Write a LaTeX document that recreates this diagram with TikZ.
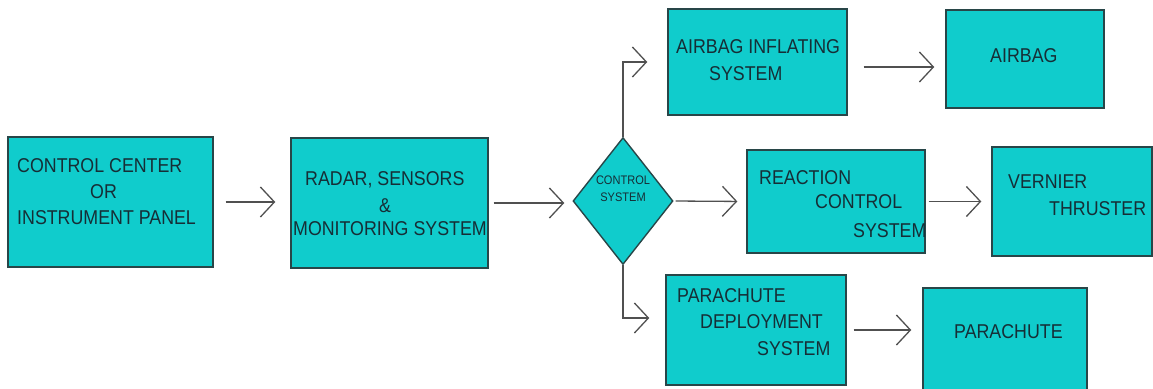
\documentclass[tikz,border=0pt]{standalone}
\usepackage{fontspec}
\setmainfont{Liberation Sans}[FakeStretch=0.89]
\usetikzlibrary{arrows.meta,shapes.geometric}
\definecolor{boxfill}{RGB}{16,204,204}
\definecolor{boxline}{RGB}{40,70,72}
\definecolor{txt}{RGB}{22,46,54}
\definecolor{arr}{RGB}{80,80,80}
\tikzset{
  blk/.style={draw=boxline,fill=boxfill,line width=1.4pt,inner sep=0pt},
  dia/.style={diamond,draw=boxline,fill=boxfill,line width=1.4pt,inner sep=0pt,minimum width=100pt,minimum height=127pt},
  lbl/.style={anchor=base west,inner sep=0pt,text=txt,font=\fontsize{20}{22}\selectfont},
  slbl/.style={anchor=base,inner sep=0pt,text=txt,font=\fontsize{12.4}{14}\selectfont},
  conn/.style={draw=arr,line width=1.3pt,-{Straight Barb[length=14pt,width=30pt,line width=1.3pt]}}
}
\begin{document}
\begin{tikzpicture}[x=1pt,y=-1pt]
\useasboundingbox (0,0) rectangle (1153,388);
% boxes
\node[blk,minimum width=205pt,minimum height=130pt] (cc) at (110.5,202) {};
\node[blk,minimum width=197pt,minimum height=130pt] (rad) at (389.5,203) {};
\node[dia] (cs) at (623,201) {};
\node[blk,minimum width=179pt,minimum height=106pt] (ais) at (757.5,62) {};
\node[blk,minimum width=158pt,minimum height=98pt] (ab) at (1025,59) {};
\node[blk,minimum width=178pt,minimum height=103pt] (rcs) at (836,201.5) {};
\node[blk,minimum width=160pt,minimum height=109pt] (vt) at (1072,201.5) {};
\node[blk,minimum width=180pt,minimum height=110pt] (pds) at (756,330) {};
\node[blk,minimum width=164pt,minimum height=106pt] (pc) at (1005,341) {};
% texts
\node[lbl] at (17,172) {CONTROL CENTER};
\node[lbl] at (90,198) {OR};
\node[lbl] at (17,224) {INSTRUMENT PANEL};
\node[lbl] at (305,185) {RADAR, SENSORS};
\node[lbl] at (379,212) {\&};
\node[lbl] at (293,235) {MONITORING SYSTEM};
\node[slbl] at (623,184) {CONTROL};
\node[slbl] at (623,201) {SYSTEM};
\node[lbl] at (676,53) {AIRBAG INFLATING};
\node[lbl] at (709,80) {SYSTEM};
\node[lbl] at (990,62) {AIRBAG};
\node[lbl] at (759,184) {REACTION};
\node[lbl] at (815,208) {CONTROL};
\node[lbl] at (853,237) {SYSTEM};
\node[lbl] at (1008,188) {VERNIER};
\node[lbl] at (1049,215) {THRUSTER};
\node[lbl] at (677,302) {PARACHUTE};
\node[lbl] at (700,328) {DEPLOYMENT};
\node[lbl] at (757,355) {SYSTEM};
\node[lbl] at (954,338) {PARACHUTE};
% connectors
\coordinate (a1) at ([yshift=-5pt]ais.east);
\coordinate (p1) at ([yshift=12pt]pds.west);
\draw[conn,shorten <=12pt,shorten >=15pt] (cc.east) -- (cc.east -| rad.west);
\draw[conn,shorten <=5pt,shorten >=8pt] (rad.east) -- (rad.east -| cs.west);
\draw[conn,shorten >=20pt] (cs.north) |- (ais.west);
\draw[conn,shorten <=2pt,shorten >=9pt] (cs.east) -- (rcs.west);
\draw[conn,shorten >=16pt] (cs.south) |- (p1);
\draw[conn,shorten <=16pt,shorten >=11pt] (a1) -- (a1 -| ab.west);
\draw[conn,shorten <=3pt,shorten >=10pt] (rcs.east) -- (rcs.east -| vt.west);
\draw[conn,shorten <=7pt,shorten >=11pt] (pds.east) -- (pds.east -| pc.west);
\end{tikzpicture}
\end{document}
